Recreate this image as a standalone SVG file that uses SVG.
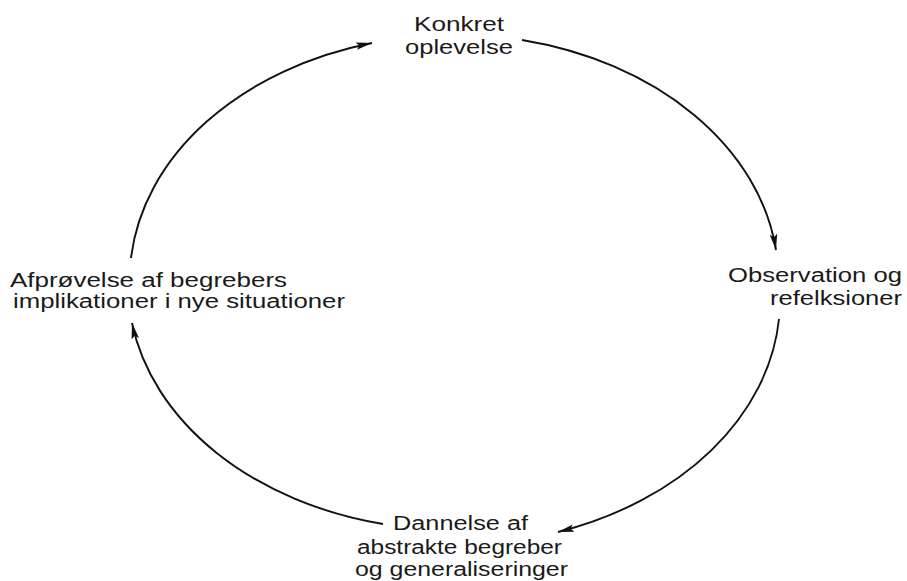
<svg xmlns="http://www.w3.org/2000/svg" width="907" height="581" viewBox="0 0 907 581">
<defs>
<marker id="ah" markerUnits="userSpaceOnUse" markerWidth="18" markerHeight="10" refX="16" refY="5" orient="auto">
<path d="M0,1.2 L16,5 L0,8.8 L3,5 z" fill="#111"/>
</marker>
<style>
.lbl{font-family:"Liberation Sans",Arial,sans-serif;font-size:20px;fill:#1a1a1a}
.arc{fill:none;stroke:#111;stroke-width:1.9;marker-end:url(#ah)}
</style>
</defs>
<rect width="907" height="581" fill="#fff"/>
<g id="connectors">
<path class="arc" d="M131,258 A325,245 0 0,1 372,43"/>
<path class="arc" d="M522,40 A325,245 0 0,1 776,250"/>
<path class="arc" d="M779,319 A325,245 0 0,1 558,532"/>
<path class="arc" d="M383,524 A325,245 0 0,1 132,323"/>
</g>
<g id="node-konkret">
<text class="lbl" x="414" y="31" textLength="90" lengthAdjust="spacingAndGlyphs">Konkret</text>
<text class="lbl" x="405" y="54" textLength="108" lengthAdjust="spacingAndGlyphs">oplevelse</text>
</g>
<g id="node-observation">
<text class="lbl" x="728" y="282" textLength="174" lengthAdjust="spacingAndGlyphs">Observation og</text>
<text class="lbl" x="770" y="305" textLength="132" lengthAdjust="spacingAndGlyphs">refelksioner</text>
</g>
<g id="node-dannelse">
<text class="lbl" x="393" y="530" textLength="135" lengthAdjust="spacingAndGlyphs">Dannelse af</text>
<text class="lbl" x="357" y="554" textLength="205" lengthAdjust="spacingAndGlyphs">abstrakte begreber</text>
<text class="lbl" x="355" y="576" textLength="213" lengthAdjust="spacingAndGlyphs">og generaliseringer</text>
</g>
<g id="node-afproevelse">
<text class="lbl" x="10" y="287" textLength="277" lengthAdjust="spacingAndGlyphs">Afprøvelse af begrebers</text>
<text class="lbl" x="13" y="308" textLength="332" lengthAdjust="spacingAndGlyphs">implikationer i nye situationer</text>
</g>
</svg>
